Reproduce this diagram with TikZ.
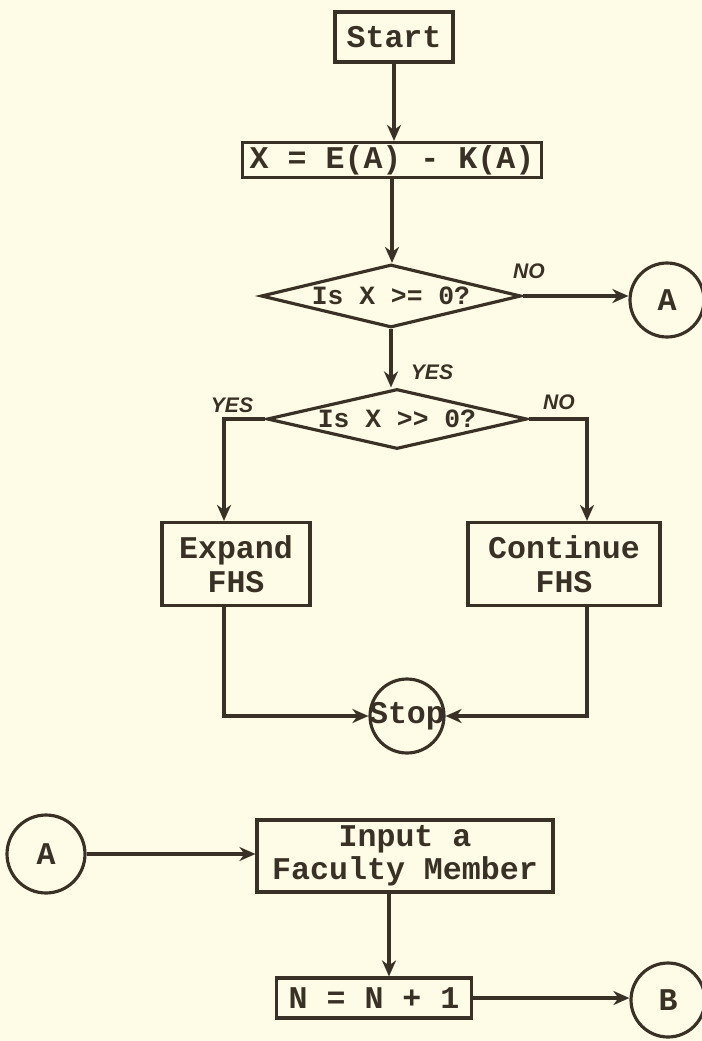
\documentclass[tikz,border=0pt]{standalone}
\usepackage{fontspec}
\setmonofont{Liberation Mono}
\setsansfont{Liberation Sans}
\usepackage{tikz}
\usetikzlibrary{arrows.meta,positioning,shapes.geometric,calc}
\definecolor{fcink}{HTML}{3A3126}
\definecolor{fcpaper}{HTML}{FEFCE6}
\newcommand{\qfont}{\ttfamily\bfseries\fontsize{15}{17}\selectfont}

\begin{document}
\begin{tikzpicture}[x=0.02cm,y=-0.02cm,
  font=\ttfamily\bfseries\fontsize{18}{19}\selectfont,
  box/.style={draw=fcink,text=fcink,line width=1.8pt,inner sep=0pt,align=center},
  dec/.style={diamond,draw=fcink,line width=1.8pt,inner sep=0pt},
  conn/.style={circle,draw=fcink,text=fcink,line width=1.8pt,inner sep=0pt,minimum size=1.48cm},
  lbl/.style={font=\sffamily\bfseries\itshape\fontsize{12}{14}\selectfont,text=fcink},
  arr/.style={-{Stealth[length=3.2mm,width=2.8mm,inset=1mm]},line width=2pt,draw=fcink}]
  \fill[fcpaper] (0,0) rectangle (702,1041);
  \useasboundingbox (0,0) rectangle (702,1041);
  \node[box,minimum width=2.36cm,minimum height=1cm] (start) at (394,37) {Start};
  \node[box,minimum width=5.98cm,minimum height=0.7cm] (xb) at (392,160) {X = E(A) - K(A)};
  \node[dec,minimum width=5.2cm,minimum height=1.26cm,
    label={[text=fcink,font=\qfont]center:Is X >= 0?}] (d1) at (391,296) {};
  \node[conn] (ca) at (667,300) {A};
  \node[dec,minimum width=5.2cm,minimum height=1.2cm,
    label={[text=fcink,font=\qfont]center:Is X >> 0?}] (d2) at (397,419) {};
  \node[box,minimum width=2.96cm,minimum height=1.66cm] (ex) at (236,564) {Expand\\FHS};
  \node[box,minimum width=3.84cm,minimum height=1.66cm] (co) at (564,564) {Continue\\FHS};
  \node[conn,label={[text=fcink]center:Stop}] (stop) at (407,716) {};
  \node[conn,minimum size=1.56cm] (ca2) at (46,854) {A};
  \node[box,minimum width=5.92cm,minimum height=1.44cm] (inp) at (405,856) {Input a\\Faculty Member};
  \node[box,minimum width=3.9cm,minimum height=0.8cm] (nn) at (374,998) {N = N + 1};
  \node[conn] (cb) at (668,1000) {B};
  \node[lbl] (no1) at (529,271) {NO};
  \node[lbl] (yes1) at (432,372) {YES};
  \node[lbl] (yes2) at (232,405) {YES};
  \node[lbl] (no2) at (559,402) {NO};
  \coordinate (jl) at (224,419);
  \coordinate (jr) at (587,419);
  \coordinate (jd) at (389,856);
  \draw[arr] (start.south) -- (start.south |- xb.north);
  \draw[arr] (xb.south) -- (xb.south |- d1.north);
  \draw[arr] (d1.east) -- (d1.east -| ca.west);
  \draw[arr] (d1.south) -- (d1.south |- d2.north);
  \draw[arr] (d2.west) -| (jl |- ex.north);
  \draw[arr] (d2.east) -| (jr |- co.north);
  \draw[arr] (jl |- ex.south) |- (stop.west);
  \draw[arr] (jr |- co.south) |- (stop.east);
  \draw[arr] (ca2.east) -- (ca2.east -| inp.west);
  \draw[arr] (jd |- inp.south) -- (jd |- nn.north);
  \draw[arr] (nn.east) -- (nn.east -| cb.west);
\end{tikzpicture}
\end{document}
